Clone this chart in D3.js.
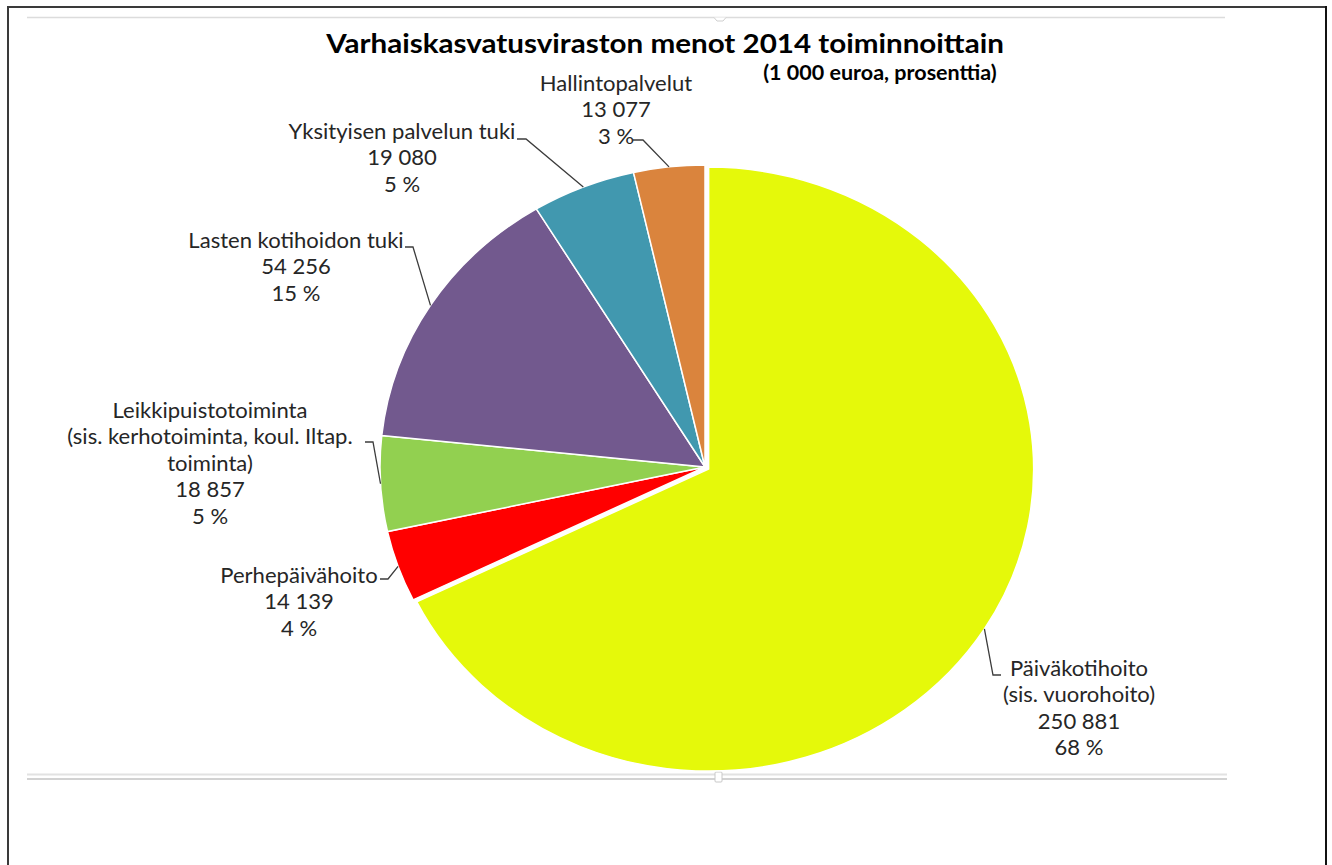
<!DOCTYPE html>
<html>
<head>
<meta charset="utf-8">
<script src="https://cdn.jsdelivr.net/npm/d3@7"></script>
<style>
  html, body { margin: 0; padding: 0; background: #ffffff; }
  svg { display: block; }
</style>
</head>
<body>
<svg id="chart" width="1332" height="865"></svg>
<script>
// ---- data ----
const title = "Varhaiskasvatusviraston menot 2014 toiminnoittain";
const subtitle = "(1 000 euroa, prosenttia)";
const categories = [
  ["Päiväkotihoito", "(sis. vuorohoito)"],
  ["Perhepäivähoito"],
  ["Leikkipuistotoiminta", "(sis. kerhotoiminta, koul. Iltap.", "toiminta)"],
  ["Lasten kotihoidon tuki"],
  ["Yksityisen palvelun tuki"],
  ["Hallintopalvelut"]
];
const values = [250881, 14139, 18857, 54256, 19080, 13077];
const valueLabels = ["250 881", "14 139", "18 857", "54 256", "19 080", "13 077"];
const percentLabels = ["68 %", "4 %", "5 %", "15 %", "5 %", "3 %"];
const colors = ["#E5F90A", "#FF0000", "#92D050", "#72598E", "#4198AF", "#DA843D"];

// ---- layout (label placement, not data) ----
const labelLayout = [
  { x: 1079, y: 668, elbow: [993, 675], end: [1001, 675] },
  { x: 299,  y: 575, elbow: [388, 579], end: [380, 579] },
  { x: 210,  y: 410, elbow: [373, 442], end: [365, 442] },
  { x: 296,  y: 240, elbow: [413, 247], end: [405, 247] },
  { x: 402,  y: 131, elbow: [526, 139], end: [517, 139] },
  { x: 616,  y: 83,  elbow: [643, 140], end: [633, 140] }
];

const svg = d3.select("#chart");
const W = 1332, H = 865;
const cx = 705, cy = 467, R = 302, sx = 325 / 302;
const explode = [4, 0, 0, 0, 0, 0];
const lineH = 26.5;
const font = "Lato, 'Open Sans', sans-serif";

// frame
svg.append("line").attr("x1", 8).attr("y1", 7).attr("x2", 1327).attr("y2", 7)
  .attr("stroke", "#3a3a3a").attr("stroke-width", 2);
svg.append("line").attr("x1", 8).attr("y1", 6).attr("x2", 8).attr("y2", H)
  .attr("stroke", "#3a3a3a").attr("stroke-width", 2);
svg.append("line").attr("x1", 1326).attr("y1", 6).attr("x2", 1326).attr("y2", H)
  .attr("stroke", "#111").attr("stroke-width", 2);

// chart area guide lines
svg.append("line").attr("x1", 27).attr("y1", 17.5).attr("x2", 1225).attr("y2", 17.5)
  .attr("stroke", "#dcdcdc").attr("stroke-width", 1.5);
svg.append("path").attr("d", "M714,17.5 L717,21 L723,21 L726,17.5")
  .attr("fill", "#fff").attr("stroke", "#cfcfcf").attr("stroke-width", 1);
svg.append("line").attr("x1", 27).attr("y1", 774.5).attr("x2", 1227).attr("y2", 774.5)
  .attr("stroke", "#e2e2e2").attr("stroke-width", 2);
svg.append("line").attr("x1", 27).attr("y1", 779).attr("x2", 1227).attr("y2", 779)
  .attr("stroke", "#d2d2d2").attr("stroke-width", 2);
svg.append("rect").attr("x", 715).attr("y", 772).attr("width", 7).attr("height", 10).attr("rx", 1)
  .attr("fill", "#fff").attr("stroke", "#c8c8c8").attr("stroke-width", 1);

// stretched text helper (the reference image is stretched horizontally)
function stretchedText(x, y) {
  return svg.append("g").attr("transform", `translate(${x},${y}) scale(${sx},1)`)
    .append("text").attr("text-anchor", "middle").attr("font-family", font);
}

// title
stretchedText(665, 53).attr("font-weight", "bold").attr("font-size", 27.5)
  .attr("fill", "#000").text(title);
stretchedText(880, 80).attr("font-weight", "bold").attr("font-size", 20)
  .attr("fill", "#000").text(subtitle);

// pie
const pie = d3.pie().sort(null).value(d => d).startAngle(0).endAngle(2 * Math.PI);
const arcs = pie(values);
const arc = d3.arc().innerRadius(0).outerRadius(R);

const g = svg.append("g").attr("transform", `translate(${cx},${cy}) scale(${sx},1)`);
g.selectAll("path").data(arcs).join("path")
  .attr("d", arc)
  .attr("transform", (d, i) => {
    const m = (d.startAngle + d.endAngle) / 2;
    return `translate(${Math.sin(m) * explode[i]},${-Math.cos(m) * explode[i]})`;
  })
  .attr("fill", (d, i) => colors[i])
  .attr("stroke", "#ffffff").attr("stroke-width", 1.5)
  .attr("vector-effect", "non-scaling-stroke");

// leader lines
arcs.forEach((d, i) => {
  const m = (d.startAngle + d.endAngle) / 2;
  const ax = cx + Math.sin(m) * (R + explode[i]) * sx;
  const ay = cy - Math.cos(m) * (R + explode[i]);
  const L = labelLayout[i];
  svg.append("polyline")
    .attr("points", [[ax, ay], L.elbow, L.end].map(p => p.join(",")).join(" "))
    .attr("fill", "none").attr("stroke", "#3c3c3c").attr("stroke-width", 1.3);
});

// labels
arcs.forEach((d, i) => {
  const L = labelLayout[i];
  const lines = categories[i].concat([valueLabels[i], percentLabels[i]]);
  const t = stretchedText(L.x, L.y).attr("font-size", 20.5).attr("fill", "#262626");
  lines.forEach((s, k) => {
    t.append("tspan").attr("x", 0).attr("y", k * lineH)
      .attr("dominant-baseline", "central").text(s);
  });
});
</script>
</body>
</html>
